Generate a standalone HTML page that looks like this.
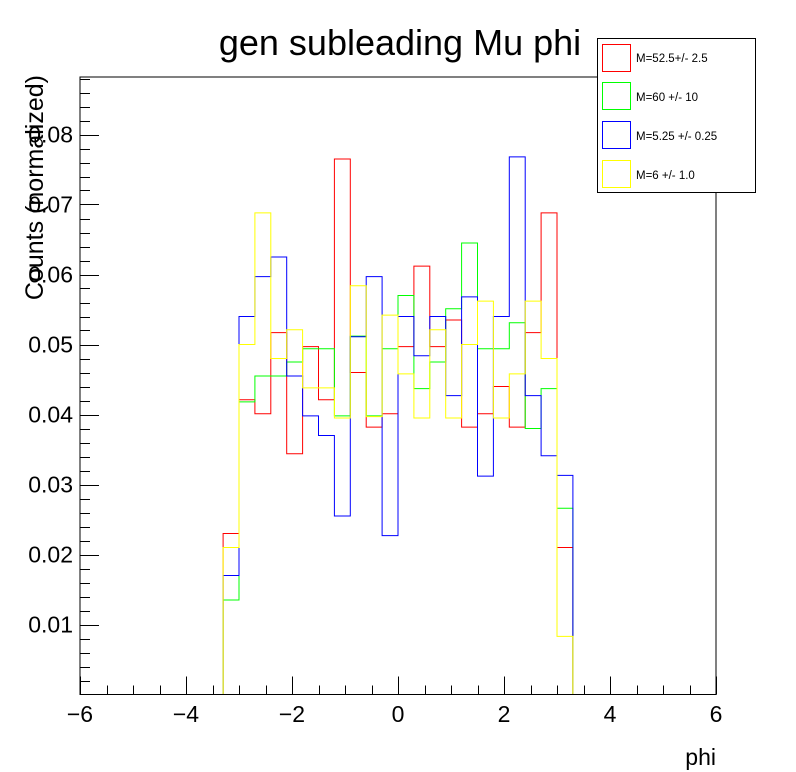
<!DOCTYPE html>
<html><head><meta charset="utf-8"><style>
html,body{margin:0;padding:0;background:#fff;}
svg{display:block;font-family:"Liberation Sans",Arial,sans-serif;}
</style></head><body>
<svg id="chart" width="796" height="772" viewBox="0 0 796 772">
<rect x="0" y="0" width="796" height="772" fill="#fff"/>
<text x="400" y="55" font-size="36" text-anchor="middle">gen subleading Mu phi</text>
<g id="axes"></g>
<g id="series"></g>
<rect x="80" y="77" width="636" height="617.5" fill="none" stroke="#000" stroke-width="1"/>
<text x="716" y="765" font-size="23" text-anchor="end">phi</text>
<text transform="translate(43,75) rotate(-90)" font-size="25" text-anchor="end">Counts (normalized)</text>
<g>
<rect x="597.5" y="38.5" width="158" height="154" fill="#fff" stroke="#000" stroke-width="1"/>
<g><rect x="602.5" y="44.5" width="28" height="27" fill="none" stroke="#ff0000"/><text x="636" y="62" font-size="11.5">M=52.5+/- 2.5</text></g>
<g><rect x="602.5" y="82.5" width="28" height="27" fill="none" stroke="#00ff00"/><text x="636" y="101" font-size="11.5">M=60 +/- 10</text></g>
<g><rect x="602.5" y="121.5" width="28" height="27" fill="none" stroke="#0000ff"/><text x="636" y="140" font-size="11.5">M=5.25 +/- 0.25</text></g>
<g><rect x="602.5" y="160.5" width="28" height="27" fill="none" stroke="#ffff00"/><text x="636" y="179" font-size="11.5">M=6 +/- 1.0</text></g>
</g>
</svg>
<script>
const binLow = -3.3;
const binWidth = 0.3;
const redValues = [0.023,0.0421,0.0401,0.0517,0.0344,0.0497,0.0421,0.0765,0.0460,0.0382,0.0401,0.0497,0.0612,0.0497,0.0535,0.0382,0.0401,0.0440,0.0382,0.0517,0.0688,0.021];
const greenValues = [0.0135,0.0418,0.0455,0.0455,0.0475,0.0494,0.0494,0.0398,0.0512,0.0398,0.0494,0.0570,0.0437,0.0475,0.0551,0.0645,0.0494,0.0494,0.0531,0.0380,0.0437,0.0266];
const blueValues = [0.017,0.0540,0.0597,0.0625,0.0455,0.0398,0.0370,0.0255,0.0511,0.0597,0.0227,0.0540,0.0484,0.0540,0.0427,0.0568,0.0312,0.0540,0.0768,0.0427,0.0341,0.0313];
const yellowValues = [0.021,0.0500,0.0688,0.0480,0.0521,0.0438,0.0438,0.0395,0.0584,0.0397,0.0542,0.0458,0.0395,0.0521,0.0395,0.0500,0.0562,0.0395,0.0458,0.0562,0.0480,0.0083];
const xTickLabels = ["\u22126","\u22124","\u22122","0","2","4","6"];
const xTickValues = [-6,-4,-2,0,2,4,6];
const yTickLabels = ["0.01","0.02","0.03","0.04","0.05","0.06","0.07","0.08"];
const yTickValues = [0.01,0.02,0.03,0.04,0.05,0.06,0.07,0.08];

const NS = "http://www.w3.org/2000/svg";
const X0 = 80, X1 = 716, Y0 = 694.5, YTOP = 77;
const xMin = -6, xMax = 6, yMin = 0, yMax = (Y0 - YTOP) / 7000;
function xs(v){ return X0 + (v - xMin) / (xMax - xMin) * (X1 - X0); }
function ys(v){ return Y0 - (v - yMin) / (yMax - yMin) * (Y0 - YTOP); }

const axes = document.getElementById('axes');
function line(x1,y1,x2,y2,name){
  const l = document.createElementNS(NS,'line');
  l.setAttribute('x1',x1); l.setAttribute('y1',y1); l.setAttribute('x2',x2); l.setAttribute('y2',y2);
  l.setAttribute('stroke','#000'); l.setAttribute('stroke-width','1');
  
  
  axes.appendChild(l);
}
for (let i = 0; i <= 24; i++) {
  const v = xMin + i * 0.5;
  const px = Math.round(xs(v)) + 0.5;
  const major = (i % 4 === 0);
  line(px, Y0, px, Y0 - (major ? 18 : 9), major ? 'x-major-tick' : 'x-minor-tick');
}
xTickValues.forEach((v, i) => {
  const t = document.createElementNS(NS,'text');
  t.setAttribute('x', xs(v)); t.setAttribute('y', 722);
  t.setAttribute('font-size','23'); t.setAttribute('text-anchor','middle');
  t.textContent = xTickLabels[i];
  
  
  axes.appendChild(t);
});
for (let i = 1; i * 0.002 <= yMax; i++) {
  const v = i * 0.002;
  const py = Math.round(ys(v)) + 0.5;
  const major = (i % 5 === 0);
  line(X0, py, X0 + (major ? 19 : 10), py, major ? 'y-major-tick' : 'y-minor-tick');
}
yTickValues.forEach((v, i) => {
  const t = document.createElementNS(NS,'text');
  t.setAttribute('x', 73); t.setAttribute('y', ys(v) + 8);
  t.setAttribute('font-size','23'); t.setAttribute('text-anchor','end');
  t.textContent = yTickLabels[i];
  
  
  axes.appendChild(t);
});

const series = document.getElementById('series');
function drawHist(vals, color, name){
  let d = 'M' + xs(xMin) + ',' + ys(0) + ' L' + xs(binLow) + ',' + ys(0);
  vals.forEach((v, i) => {
    const a = xs(binLow + i * binWidth), b = xs(binLow + (i + 1) * binWidth);
    d += ' L' + a + ',' + ys(v) + ' L' + b + ',' + ys(v);
  });
  const end = binLow + vals.length * binWidth;
  d += ' L' + xs(end) + ',' + ys(0) + ' L' + xs(xMax) + ',' + ys(0);
  const p = document.createElementNS(NS,'path');
  p.setAttribute('d', d); p.setAttribute('fill','none');
  p.setAttribute('stroke', color); p.setAttribute('stroke-width','1');
  
  
  series.appendChild(p);
}
drawHist(redValues, '#ff0000', 'hist-red');
drawHist(greenValues, '#00ff00', 'hist-green');
drawHist(blueValues, '#0000ff', 'hist-blue');
drawHist(yellowValues, '#ffff00', 'hist-yellow');
</script>
</body></html>
